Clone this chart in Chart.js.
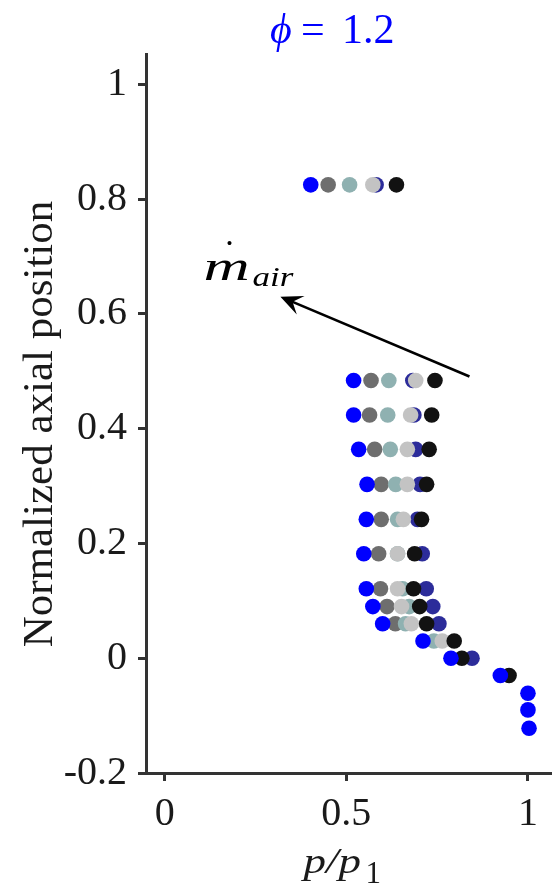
<!DOCTYPE html>
<html><head><meta charset="utf-8">
<script src="https://cdn.jsdelivr.net/npm/chart.js@4.4.1/dist/chart.umd.min.js"></script>
<style>html,body{margin:0;padding:0;background:#fff;}canvas{display:block;}</style>
</head><body>
<canvas id="c" width="559" height="892"></canvas>
<script>
// ---- data ----
const axialPositions = [0.825, 0.484, 0.424, 0.364, 0.303, 0.242, 0.182, 0.121, 0.090, 0.060, 0.030, 0.000, -0.030, -0.061, -0.090, -0.122];
const seriesNames = ['Case 1', 'Case 2', 'Case 3', 'Case 4', 'Case 5', 'Case 6'];
const series1 = [0.402, 0.520, 0.520, 0.534, 0.557, 0.555, 0.548, 0.555, 0.573, 0.600, 0.711, 0.788, 0.924, 1.000, 1.000, 1.003];
const series2 = [0.450, 0.568, 0.564, 0.578, 0.596, 0.596, 0.589, 0.594, 0.612, 0.635, null, null, null, null, null, null];
const series3 = [0.509, 0.617, 0.614, 0.621, 0.636, 0.641, 0.641, 0.655, 0.673, 0.663, 0.741, null, null, null, null, null];
const series4 = [0.573, 0.691, 0.677, 0.668, 0.668, 0.657, 0.641, 0.641, 0.652, 0.679, 0.764, null, null, null, null, null];
const series5 = [0.582, 0.683, 0.686, 0.691, 0.703, 0.696, 0.709, 0.720, 0.738, 0.755, null, 0.846, null, null, null, null];
const series6 = [0.638, 0.744, 0.735, 0.728, 0.721, 0.707, 0.688, 0.685, 0.702, 0.721, 0.797, 0.818, 0.948, null, null, null];
const xTicks = [0, 0.5, 1];
const xTickLabels = ['0', '0.5', '1'];
const yTicks = [-0.2, 0, 0.2, 0.4, 0.6, 0.8, 1];
const yTickLabels = ['-0.2', '0', '0.2', '0.4', '0.6', '0.8', '1'];
const yAxisTitle = 'Normalized axial position';
const arrowFrom = [0.839, 0.491];
const arrowTo = [0.3185, 0.630];
const annotAnchor = [0.107, 0.659];

// ---- styles ----
const colors = ['#0000ff', '#6e6e6e', '#8fb1b1', '#c3c3c3', '#2c2c9a', '#121212'];
const drawOrder = [0, 5, 4, 2, 3, 1]; // lower = on top
const allSeries = [series1, series2, series3, series4, series5, series6];
const SERIF = '"Liberation Serif", "DejaVu Serif", serif';
const AXC = '#333333';
const TXT = '#1a1a1a';

function toPoints(vals) {
  const pts = [];
  vals.forEach((v, i) => { if (v !== null) pts.push({x: v, y: axialPositions[i]}); });
  return pts;
}

const datasets = allSeries.map((vals, k) => ({
  label: seriesNames[k],
  data: toPoints(vals),
  backgroundColor: colors[k],
  borderColor: colors[k],
  borderWidth: 0,
  pointRadius: 7.8,
  pointHoverRadius: 7.8,
  order: drawOrder[k]
}));

function stretchedText(ctx, text, x, y, font, sx) {
  ctx.save();
  ctx.translate(x, y); ctx.scale(sx, 1);
  ctx.font = font;
  ctx.fillText(text, 0, 0);
  ctx.restore();
}

const annotPlugin = {
  id: 'annot',
  afterDatasetsDraw(chart) {
    const ctx = chart.ctx;
    const xs = chart.scales.x, ys = chart.scales.y;
    // arrow
    const x1 = xs.getPixelForValue(arrowFrom[0]), y1 = ys.getPixelForValue(arrowFrom[1]);
    const x2 = xs.getPixelForValue(arrowTo[0]), y2 = ys.getPixelForValue(arrowTo[1]);
    const dx = x1 - x2, dy = y1 - y2, len = Math.hypot(dx, dy);
    const ux = dx / len, uy = dy / len, px = -uy, py = ux;
    const L = 22, W = 10;
    ctx.save();
    ctx.strokeStyle = '#000'; ctx.fillStyle = '#000'; ctx.lineWidth = 2.6;
    ctx.beginPath();
    ctx.moveTo(x1, y1); ctx.lineTo(x2 + ux * 10, y2 + uy * 10); ctx.stroke();
    ctx.beginPath();
    ctx.moveTo(x2, y2);
    ctx.lineTo(x2 + ux * L + px * W, y2 + uy * L + py * W);
    ctx.lineTo(x2 + ux * L * 0.6, y2 + uy * L * 0.6);
    ctx.lineTo(x2 + ux * L - px * W, y2 + uy * L - py * W);
    ctx.closePath(); ctx.fill();
    // m-dot_air label
    const ax = xs.getPixelForValue(annotAnchor[0]), ay = ys.getPixelForValue(annotAnchor[1]);
    ctx.textBaseline = 'alphabetic'; ctx.textAlign = 'left';
    stretchedText(ctx, 'm', ax, ay, 'italic 40px ' + SERIF, 1.6);
    ctx.textAlign = 'center';
    ctx.font = '34px ' + SERIF;
    ctx.fillText('.', ax + 26, ay - 35);
    ctx.textAlign = 'left';
    stretchedText(ctx, 'air', ax + 49, ay + 6, 'italic 28px ' + SERIF, 1.25);
    ctx.restore();
  },
  afterDraw(chart) {
    const ctx = chart.ctx;
    const ca = chart.chartArea;
    ctx.save();
    ctx.textBaseline = 'alphabetic'; ctx.textAlign = 'left';
    // title
    ctx.fillStyle = '#0000ff';
    ctx.font = 'italic 42px ' + SERIF;
    ctx.fillText('\u03D5', 270, 43);
    ctx.font = '42px ' + SERIF;
    ctx.fillText('=', 301, 43);
    ctx.fillText('1.2', 342, 43);
    // x-axis label p/p1
    ctx.fillStyle = TXT;
    const cx = (ca.left + ca.right) / 2;
    stretchedText(ctx, 'p/p', cx - 45, 873, 'italic 36px ' + SERIF, 1.25);
    ctx.font = '31px ' + SERIF;
    ctx.fillText('1', cx + 17, 883);
    // y-axis title
    ctx.save();
    ctx.translate(52, 424);
    ctx.rotate(-Math.PI / 2);
    ctx.textAlign = 'center';
    ctx.font = '43px ' + SERIF;
    ctx.fillText(yAxisTitle, 0, 0);
    ctx.restore();
    ctx.restore();
  }
};

new Chart(document.getElementById('c'), {
  type: 'scatter',
  data: { datasets },
  plugins: [annotPlugin],
  options: {
    responsive: false,
    animation: false,
    devicePixelRatio: 1,
    layout: { padding: { top: 54, right: 4, left: 0, bottom: 0 } },
    plugins: { legend: { display: false }, tooltip: { enabled: false }, title: { display: false } },
    scales: {
      x: {
        type: 'linear', min: -0.0515, max: 1.064,
        afterBuildTicks: s => { s.ticks = xTicks.map(v => ({ value: v })); },
        afterFit: s => { s.height = 119; },
        ticks: {
          callback: (v) => xTickLabels[xTicks.indexOf(v)] ?? '',
          font: { family: SERIF, size: 40, lineHeight: 1.2 }, color: TXT, padding: 9, maxRotation: 0
        },
        grid: { drawOnChartArea: false, drawTicks: true, tickLength: 8, tickWidth: 3, tickColor: AXC },
        border: { display: true, color: AXC, width: 3 }
      },
      y: {
        type: 'linear', min: -0.2, max: 1.053,
        afterBuildTicks: s => { s.ticks = yTicks.map(v => ({ value: v })); },
        afterFit: s => { s.width = 146; },
        ticks: {
          callback: (v) => { const i = yTicks.findIndex(t => Math.abs(t - v) < 1e-9); return i >= 0 ? yTickLabels[i] : ''; },
          font: { family: SERIF, size: 40, lineHeight: 1.2 }, color: TXT, padding: 11
        },
        grid: { drawOnChartArea: false, drawTicks: true, tickLength: 8, tickWidth: 3, tickColor: AXC },
        border: { display: true, color: AXC, width: 3 },
        title: { display: false }
      }
    }
  }
});
</script>
</body></html>
